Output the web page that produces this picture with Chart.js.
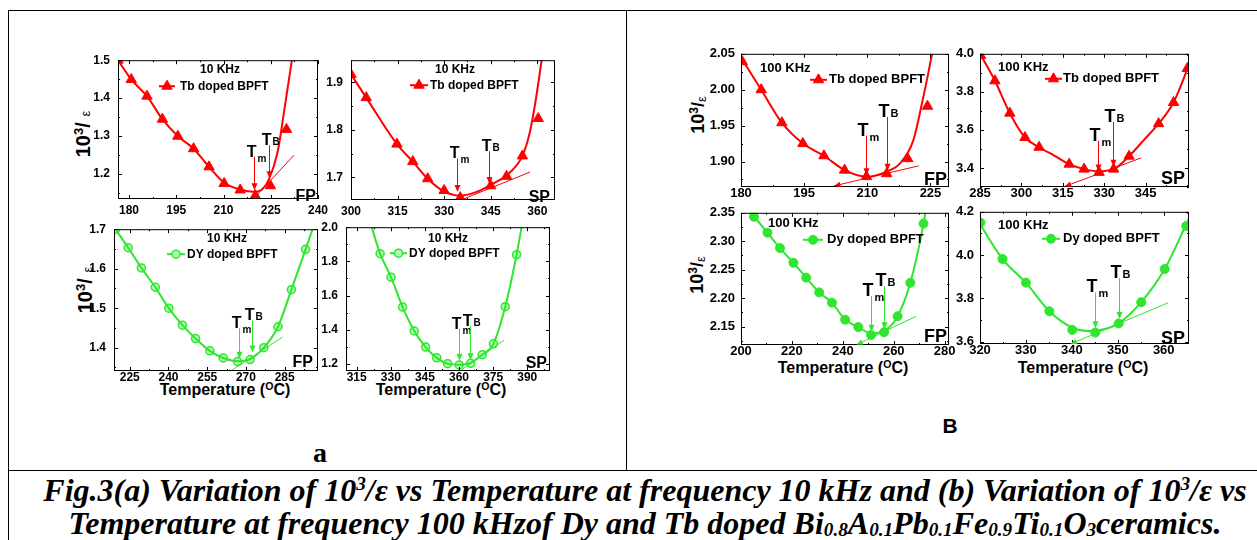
<!DOCTYPE html>
<html>
<head>
<meta charset="utf-8">
<title>Fig.3</title>
<script src="https://cdn.jsdelivr.net/npm/chart.js@4.4.1/dist/chart.umd.min.js"></script>
<style>
  body { margin: 0; background: #fff; }
  #page { position: relative; width: 1257px; height: 540px; overflow: hidden; font-family: Arial, "Liberation Sans", sans-serif; }
  .rule { position: absolute; background: #000; }
  canvas { position: absolute; }
  .lbl { position: absolute; white-space: nowrap; transform: translate(-50%, -50%); font-weight: bold; color: #000; line-height: 1; }
  .ytitle { transform: translate(-50%, -50%) rotate(-90deg); }
  .lbl sup { font-size: 66%; vertical-align: 0.5em; line-height: 0; }
  .eps { font-weight: normal; }
  .cap { position: absolute; left: 0; width: 1290px; text-align: center; font: italic bold 32px "Liberation Serif", "Times New Roman", serif; line-height: 33px; white-space: nowrap; }
  .cap sup { font-size: 60%; line-height: 0; vertical-align: 0.55em; }
  .cap sub { font-size: 60%; line-height: 0; vertical-align: -0.12em; }
</style>
</head>
<body>
<div id="page">
  <div class="rule" style="left:8px;top:10px;width:1249px;height:1px"></div>
  <div class="rule" style="left:8px;top:10px;width:1px;height:530px"></div>
  <div class="rule" style="left:626px;top:10px;width:1px;height:461px"></div>
  <div class="rule" style="left:8px;top:470px;width:1249px;height:1px"></div>

  <div class="lbl ytitle" style="left:83px;top:134px;font-size:20px">10<sup>3</sup>/ <span class="eps" style="font-size:13px">ε</span></div>
  <div class="lbl ytitle" style="left:85px;top:290px;font-size:20px">10<sup>3</sup>/ <span class="eps" style="font-size:13px">ε</span></div>
  <div class="lbl ytitle" style="left:698px;top:115px;font-size:18px">10<sup>3</sup>/<span class="eps" style="font-size:13px;vertical-align:-2px">ε</span></div>
  <div class="lbl ytitle" style="left:697px;top:275px;font-size:18px">10<sup>3</sup>/<span class="eps" style="font-size:13px;vertical-align:-2px">ε</span></div>

  <div class="lbl" style="left:225px;top:390px;font-size:16px">Temperature (<sup>O</sup>C)</div>
  <div class="lbl" style="left:441px;top:390px;font-size:16px">Temperature (<sup>O</sup>C)</div>
  <div class="lbl" style="left:843px;top:368px;font-size:16px">Temperature (<sup>O</sup>C)</div>
  <div class="lbl" style="left:1083px;top:368px;font-size:16px">Temperature (<sup>O</sup>C)</div>

  <div class="lbl" style="left:320px;top:453px;font:bold 28px 'Liberation Serif', serif">a</div>
  <div class="lbl" style="left:950px;top:425px;font-size:21px">B</div>

  <div class="cap" style="top:474px">Fig.3(a) Variation of 10<sup>3</sup>/ε vs Temperature at frequency 10 kHz and (b) Variation of 10<sup>3</sup>/ε vs</div>
  <div class="cap" style="top:507px">Temperature at frequency 100 kHzof Dy and Tb doped Bi<sub>0.8</sub>A<sub>0.1</sub>Pb<sub>0.1</sub>Fe<sub>0.9</sub>Ti<sub>0.1</sub>O<sub>3</sub>ceramics.</div>
</div>

<script>
// ---- (a) 10 kHz, Tb doped, FP
const tb10FpTemp = [176.5, 180.7, 185.7, 190.6, 195.5, 200.5, 205.4, 210.2, 215.3, 220.1, 224.9, 230.0];
const tb10FpInv  = [1.500, 1.449, 1.405, 1.344, 1.299, 1.266, 1.218, 1.174, 1.157, 1.142, 1.168, 1.317];
const tb10FpFitTemp = [176.5, 180.7, 185.7, 190.6, 195.5, 200.5, 205.4, 210.2, 215.3, 219.7, 222.0, 224.4, 227.2, 229.3, 231.7];
const tb10FpFitInv  = [1.500, 1.449, 1.405, 1.344, 1.299, 1.266, 1.218, 1.176, 1.158, 1.152, 1.157, 1.185, 1.258, 1.368, 1.500];
const tb10FpTanTemp = [220.1, 232.4];
const tb10FpTanInv  = [1.139, 1.249];
const tb10FpXTicks = [180, 195, 210, 225, 240];
const tb10FpYTicks = [1.2, 1.3, 1.4, 1.5];

// ---- (a) 10 kHz, Tb doped, SP
const tb10SpTemp = [300.0, 304.9, 314.8, 319.9, 324.7, 330.0, 335.2, 345.0, 350.1, 355.2, 360.3];
const tb10SpInv  = [1.917, 1.868, 1.770, 1.733, 1.697, 1.672, 1.657, 1.682, 1.702, 1.745, 1.824];
const tb10SpFitTemp = [300.0, 304.9, 314.8, 319.9, 324.7, 330.0, 335.0, 340.0, 345.0, 350.1, 355.2, 357.6, 359.5, 361.4];
const tb10SpFitInv  = [1.917, 1.868, 1.770, 1.733, 1.697, 1.670, 1.661, 1.668, 1.684, 1.704, 1.745, 1.795, 1.863, 1.947];
const tb10SpTanTemp = [335.8, 357.7];
const tb10SpTanInv  = [1.653, 1.711];
const tb10SpXTicks = [300, 315, 330, 345, 360];
const tb10SpYTicks = [1.7, 1.8, 1.9];

// ---- (a) 10 kHz, Dy doped, FP
const dy10FpTemp = [219.5, 224.4, 229.5, 234.9, 240.1, 245.4, 250.5, 256.0, 261.2, 266.8, 271.6, 276.9, 282.4, 287.6, 293.1];
const dy10FpInv  = [1.700, 1.653, 1.602, 1.553, 1.500, 1.457, 1.423, 1.392, 1.374, 1.365, 1.370, 1.400, 1.453, 1.547, 1.649];
const dy10FpFitTemp = [219.5, 224.4, 229.5, 234.9, 240.1, 245.4, 250.5, 256.0, 261.2, 266.8, 271.6, 276.9, 282.4, 287.6, 293.1, 295.8];
const dy10FpFitInv  = [1.700, 1.653, 1.602, 1.553, 1.500, 1.457, 1.423, 1.392, 1.374, 1.366, 1.371, 1.400, 1.453, 1.547, 1.649, 1.700];
const dy10FpTanTemp = [263.6, 284.2];
const dy10FpTanInv  = [1.339, 1.427];
const dy10FpXTicks = [225, 240, 255, 270, 285];
const dy10FpYTicks = [1.4, 1.5, 1.6, 1.7];

// ---- (a) 10 kHz, Dy doped, SP
const dy10SpTemp = [325.3, 330.1, 335.2, 340.3, 345.3, 350.2, 355.0, 360.1, 365.1, 370.2, 375.1, 380.3, 385.3];
const dy10SpInv  = [1.845, 1.708, 1.533, 1.393, 1.299, 1.236, 1.202, 1.194, 1.204, 1.254, 1.318, 1.535, 1.839];
const dy10SpFitTemp = [321.6, 325.3, 330.1, 335.2, 340.3, 345.3, 350.2, 355.0, 360.1, 365.1, 370.2, 375.1, 380.3, 385.3, 387.5];
const dy10SpFitInv  = [2.000, 1.845, 1.708, 1.533, 1.393, 1.299, 1.236, 1.202, 1.196, 1.206, 1.254, 1.318, 1.535, 1.839, 2.000];
const dy10SpTanTemp = [359.7, 379.9];
const dy10SpTanInv  = [1.153, 1.340];
const dy10SpXTicks = [315, 330, 345, 360, 375, 390];
const dy10SpYTicks = [1.2, 1.4, 1.6, 1.8, 2.0];

// ---- (b) 100 kHz, Tb doped, FP
const tb100FpTemp = [180.3, 184.8, 189.7, 194.7, 199.7, 204.6, 209.8, 214.6, 219.6, 224.3];
const tb100FpInv  = [2.039, 2.000, 1.954, 1.925, 1.908, 1.888, 1.879, 1.883, 1.904, 1.977];
const tb100FpFitTemp = [180.0, 184.8, 189.7, 194.7, 199.7, 204.6, 209.8, 214.6, 217.7, 220.9, 223.2, 225.4];
const tb100FpFitInv  = [2.045, 2.000, 1.954, 1.925, 1.908, 1.888, 1.879, 1.886, 1.897, 1.929, 1.987, 2.050];
const tb100FpTanTemp = [202.1, 222.2];
const tb100FpTanInv  = [1.866, 1.894];
const tb100FpXTicks = [180, 195, 210, 225];
const tb100FpYTicks = [1.90, 1.95, 2.00, 2.05];

// ---- (b) 100 kHz, Tb doped, SP
const tb100SpTemp = [285.2, 290.4, 295.8, 301.3, 306.4, 317.3, 322.7, 328.1, 333.4, 339.0, 349.7, 355.1, 360.1];
const tb100SpInv  = [3.991, 3.858, 3.688, 3.560, 3.509, 3.420, 3.394, 3.377, 3.394, 3.462, 3.633, 3.744, 3.923];
const tb100SpFitTemp = [285.0, 290.4, 295.8, 301.3, 306.4, 311.9, 317.3, 322.7, 327.5, 333.4, 339.0, 344.4, 349.7, 355.1, 360.7];
const tb100SpFitInv  = [4.000, 3.858, 3.688, 3.560, 3.509, 3.465, 3.420, 3.394, 3.383, 3.394, 3.462, 3.548, 3.633, 3.744, 3.940];
const tb100SpTanTemp = [315.7, 343.4];
const tb100SpTanInv  = [3.303, 3.453];
const tb100SpXTicks = [285, 300, 315, 330, 345];
const tb100SpYTicks = [3.4, 3.6, 3.8, 4.0];

// ---- (b) 100 kHz, Dy doped, FP
const dy100FpTemp = [205.1, 210.4, 215.3, 220.6, 225.6, 230.7, 235.7, 240.9, 246.1, 251.1, 256.2, 261.5, 266.5, 271.7];
const dy100FpInv  = [2.343, 2.315, 2.288, 2.262, 2.236, 2.210, 2.192, 2.162, 2.149, 2.135, 2.140, 2.168, 2.227, 2.331];
const dy100FpFitTemp = [203.5, 205.1, 210.4, 215.3, 220.6, 225.6, 230.7, 235.7, 240.9, 246.1, 251.1, 256.2, 261.5, 266.5, 271.7, 272.4];
const dy100FpFitInv  = [2.350, 2.343, 2.315, 2.288, 2.262, 2.236, 2.210, 2.192, 2.162, 2.149, 2.138, 2.142, 2.168, 2.227, 2.331, 2.350];
const dy100FpTanTemp = [245.4, 268.8];
const dy100FpTanInv  = [2.118, 2.168];
const dy100FpXTicks = [200, 220, 240, 260, 280];
const dy100FpYTicks = [2.15, 2.20, 2.25, 2.30, 2.35];

// ---- (b) 100 kHz, Dy doped, SP
const dy100SpTemp = [320.1, 324.9, 330.0, 335.1, 340.1, 345.1, 350.2, 355.1, 360.2, 364.9];
const dy100SpInv  = [4.150, 3.982, 3.873, 3.741, 3.655, 3.643, 3.685, 3.783, 3.936, 4.135];
const dy100SpFitTemp = [320.0, 324.9, 330.0, 335.1, 340.1, 343.9, 347.5, 350.2, 355.1, 360.2, 365.5];
const dy100SpFitInv  = [4.143, 3.982, 3.873, 3.741, 3.665, 3.650, 3.660, 3.685, 3.783, 3.936, 4.170];
const dy100SpTanTemp = [339.7, 360.9];
const dy100SpTanInv  = [3.590, 3.780];
const dy100SpXTicks = [320, 330, 340, 350, 360];
const dy100SpYTicks = [3.6, 3.8, 4.0, 4.2];

const RED = '#ff0000';
const GREEN = '#2ee62e';
const FONT = 'Arial, "Liberation Sans", sans-serif';
Chart.defaults.font.family = FONT;

const small = { tick: 12, note: 12, tag: 16, t: 16, sub: 10, yPad: 8 };
const large = { tick: 13, note: 13, tag: 18, t: 18, sub: 11, yPad: 6 };

const tbStyle = { color: RED, pointStyle: 'triangle', radius: 6, fill: RED, bw: 1 };
const dy10Style = { color: GREEN, pointStyle: 'circle', radius: 4, fill: '#b4ffb4', bw: 1.5 };
const dy100Style = { color: GREEN, pointStyle: 'circle', radius: 4.5, fill: GREEN, bw: 1 };

const pts = (xs, ys) => xs.map((v, i) => ({ x: v, y: ys[i] }));

const panels = [
  { box: [118, 55, 200, 144], xr: [176.5, 240], yr: [1.133, 1.5], yDec: 1, sz: small, xPad: 4, st: tbStyle,
    temp: tb10FpTemp, inv: tb10FpInv, fitT: tb10FpFitTemp, fitI: tb10FpFitInv, tanT: tb10FpTanTemp, tanI: tb10FpTanInv,
    xTicks: tb10FpXTicks, yTicks: tb10FpYTicks,
    arrows: [{ sub: 'm', x: 219.7, from: 1.245, to: 1.156 }, { sub: 'B', x: 224.4, from: 1.275, to: 1.188 }],
    freq: { text: '10 KHz', x: 102, y: 9, align: 'center' }, leg: { text: 'Tb doped BPFT', x1: 41, x2: 57, y: 26, tx: 62 },
    tag: { text: 'FP', x: 198, y: 136 } },
  { box: [351, 55, 204, 145], xr: [300, 365.7], yr: [1.652, 1.947], yDec: 1, sz: small, xPad: 4, st: tbStyle,
    temp: tb10SpTemp, inv: tb10SpInv, fitT: tb10SpFitTemp, fitI: tb10SpFitInv, tanT: tb10SpTanTemp, tanI: tb10SpTanInv,
    xTicks: tb10SpXTicks, yTicks: tb10SpYTicks,
    arrows: [{ sub: 'm', x: 334.2, from: 1.740, to: 1.669 }, { sub: 'B', x: 344.4, from: 1.755, to: 1.686 }],
    freq: { text: '10 KHz', x: 104, y: 9, align: 'center' }, leg: { text: 'Tb doped BPFT', x1: 59, x2: 77, y: 25, tx: 79 },
    tag: { text: 'SP', x: 199, y: 137 } },
  { box: [114, 224, 204, 147], xr: [218.9, 297.9], yr: [1.341, 1.7], yDec: 1, sz: small, xPad: -1, st: dy10Style,
    temp: dy10FpTemp, inv: dy10FpInv, fitT: dy10FpFitTemp, fitI: dy10FpFitInv, tanT: dy10FpTanTemp, tanI: dy10FpTanInv,
    xTicks: dy10FpXTicks, yTicks: dy10FpYTicks,
    arrows: [{ sub: 'm', x: 267.2, from: 1.449, to: 1.372 }, { sub: 'B', x: 272.3, from: 1.469, to: 1.388 }],
    freq: { text: '10 KHz', x: 113, y: 9, align: 'center' }, leg: { text: 'DY doped BPFT', x1: 53, x2: 71, y: 25, tx: 73 },
    tag: { text: 'FP', x: 199, y: 133 } },
  { box: [346, 222, 204, 149], xr: [310.3, 400], yr: [1.159, 2.0], yDec: 1, sz: small, xPad: -1, st: dy10Style,
    temp: dy10SpTemp, inv: dy10SpInv, fitT: dy10SpFitTemp, fitI: dy10SpFitInv, tanT: dy10SpTanTemp, tanI: dy10SpTanInv,
    xTicks: dy10SpXTicks, yTicks: dy10SpYTicks,
    arrows: [{ sub: 'm', x: 360.1, from: 1.406, to: 1.219 }, { sub: 'B', x: 364.8, from: 1.424, to: 1.222 }],
    freq: { text: '10 KHz', x: 102, y: 11, align: 'center' }, leg: { text: 'DY doped BPFT', x1: 44, x2: 61, y: 26, tx: 63 },
    tag: { text: 'SP', x: 201, y: 136 } },
  { box: [741, 50, 208, 137], xr: [180, 229.4], yr: [1.8645, 2.05], yDec: 2, sz: large, xPad: -1, st: tbStyle, tanHead: true,
    temp: tb100FpTemp, inv: tb100FpInv, fitT: tb100FpFitTemp, fitI: tb100FpFitInv, tanT: tb100FpTanTemp, tanI: tb100FpTanInv,
    xTicks: tb100FpXTicks, yTicks: tb100FpYTicks,
    arrows: [{ sub: 'm', x: 209.7, from: 1.936, to: 1.881 }, { sub: 'B', x: 214.6, from: 1.962, to: 1.887 }],
    freq: { text: '100 KHz', x: 19, y: 15, align: 'left' }, leg: { text: 'Tb doped BPFT', x1: 69, x2: 86, y: 26, tx: 88 },
    tag: { text: 'FP', x: 206, y: 126 } },
  { box: [980, 50, 209, 137], xr: [285, 360.7], yr: [3.3, 4.0], yDec: 1, sz: large, xPad: -1, st: tbStyle, tanHead: true,
    temp: tb100SpTemp, inv: tb100SpInv, fitT: tb100SpFitTemp, fitI: tb100SpFitInv, tanT: tb100SpTanTemp, tanI: tb100SpTanInv,
    xTicks: tb100SpXTicks, yTicks: tb100SpYTicks,
    arrows: [{ sub: 'm', x: 327.7, from: 3.543, to: 3.382 }, { sub: 'B', x: 333.3, from: 3.642, to: 3.406 }],
    freq: { text: '100 KHz', x: 18, y: 14, align: 'left' }, leg: { text: 'Tb doped BPFT', x1: 65, x2: 82, y: 25, tx: 83 },
    tag: { text: 'SP', x: 205, y: 125 } },
  { box: [741, 209, 208, 136], xr: [200, 281.7], yr: [2.1175, 2.35], yDec: 2, sz: large, xPad: -1, st: dy100Style, tanHead: true,
    temp: dy100FpTemp, inv: dy100FpInv, fitT: dy100FpFitTemp, fitI: dy100FpFitInv, tanT: dy100FpTanTemp, tanI: dy100FpTanInv,
    xTicks: dy100FpXTicks, yTicks: dy100FpYTicks,
    arrows: [{ sub: 'm', x: 251.0, from: 2.204, to: 2.141 }, { sub: 'B', x: 256.2, from: 2.221, to: 2.145 }],
    freq: { text: '100 KHz', x: 27, y: 11, align: 'left' }, leg: { text: 'Dy doped BPFT', x1: 62, x2: 82, y: 27, tx: 86 },
    tag: { text: 'FP', x: 206, y: 124 } },
  { box: [980, 208, 209, 136], xr: [320, 365.5], yr: [3.59, 4.2], yDec: 1, sz: large, xPad: -1, st: dy100Style, tanHead: true,
    temp: dy100SpTemp, inv: dy100SpInv, fitT: dy100SpFitTemp, fitI: dy100SpFitInv, tanT: dy100SpTanTemp, tanI: dy100SpTanInv,
    xTicks: dy100SpXTicks, yTicks: dy100SpYTicks,
    arrows: [{ sub: 'm', x: 345.1, from: 3.828, to: 3.663 }, { sub: 'B', x: 350.2, from: 3.895, to: 3.705 }],
    freq: { text: '100 KHz', x: 18, y: 14, align: 'left' }, leg: { text: 'Dy doped BPFT', x1: 62, x2: 80, y: 27, tx: 83 },
    tag: { text: 'SP', x: 205, y: 127 } },
];

// box with inward major/minor ticks on all four sides
const framePlugin = {
  id: 'frame',
  afterDatasetsDraw(chart, args, opts) {
    const p = opts.panel;
    const { ctx, chartArea: a, scales: { x, y } } = chart;
    ctx.save();
    ctx.strokeStyle = '#000';
    ctx.lineWidth = 1;
    ctx.strokeRect(a.left + 0.5, a.top + 0.5, a.width - 1, a.height - 1);
    const marks = (ticks, lo, hi) => {
      const step = ticks[1] - ticks[0], out = [];
      for (let v = ticks[0] - step; v <= hi + 1e-9; v += step / 2) {
        if (v >= lo - 1e-9) out.push({ v, major: ticks.some(t => Math.abs(t - v) < 1e-6) });
      }
      return out;
    };
    ctx.beginPath();
    marks(p.xTicks, p.xr[0], p.xr[1]).forEach(m => {
      const px = Math.round(x.getPixelForValue(m.v)) + 0.5, len = m.major ? 4 : 2;
      ctx.moveTo(px, a.bottom); ctx.lineTo(px, a.bottom - len);
      ctx.moveTo(px, a.top); ctx.lineTo(px, a.top + len);
    });
    marks(p.yTicks, p.yr[0], p.yr[1]).forEach(m => {
      const py = Math.round(y.getPixelForValue(m.v)) + 0.5, len = m.major ? 4 : 2;
      ctx.moveTo(a.left, py); ctx.lineTo(a.left + len, py);
      ctx.moveTo(a.right, py); ctx.lineTo(a.right - len, py);
    });
    ctx.stroke();
    ctx.restore();
  }
};

// Tm / TB arrows, legend, frequency and FP/SP notes
const notesPlugin = {
  id: 'notes',
  afterDatasetsDraw(chart, args, opts) {
    const p = opts.panel, sz = p.sz, st = p.st;
    const { ctx, chartArea: a, scales: { x, y } } = chart;
    ctx.save();
    p.arrows.forEach(ar => {
      const px = Math.round(x.getPixelForValue(ar.x)) + 0.5;
      const y1 = y.getPixelForValue(ar.from), y2 = y.getPixelForValue(ar.to);
      ctx.strokeStyle = st.color; ctx.fillStyle = st.color; ctx.lineWidth = 1;
      ctx.beginPath(); ctx.moveTo(px, y1); ctx.lineTo(px, y2 - 5); ctx.stroke();
      ctx.beginPath(); ctx.moveTo(px - 3, y2 - 7); ctx.lineTo(px + 3, y2 - 7); ctx.lineTo(px, y2); ctx.closePath(); ctx.fill();
      ctx.fillStyle = '#000';
      ctx.textBaseline = 'alphabetic';
      ctx.font = `bold ${sz.t}px ${FONT}`;
      ctx.textAlign = 'right';
      ctx.fillText('T', px + 2, y1);
      ctx.font = `bold ${sz.sub}px ${FONT}`;
      ctx.textAlign = 'left';
      ctx.fillText(ar.sub, px + 3, ar.sub === 'm' ? y1 + 5 : y1);
    });
    if (p.tanHead) {
      const x1 = x.getPixelForValue(p.tanT[0]), y1 = y.getPixelForValue(p.tanI[0]);
      const x2 = x.getPixelForValue(p.tanT[1]), y2 = y.getPixelForValue(p.tanI[1]);
      const ang = Math.atan2(y1 - y2, x1 - x2);
      ctx.fillStyle = st.color;
      ctx.beginPath();
      ctx.moveTo(x1, y1);
      ctx.lineTo(x1 - 7 * Math.cos(ang - 0.4), y1 - 7 * Math.sin(ang - 0.4));
      ctx.lineTo(x1 - 7 * Math.cos(ang + 0.4), y1 - 7 * Math.sin(ang + 0.4));
      ctx.closePath(); ctx.fill();
    }
    // legend
    const lg = p.leg, ly = a.top + lg.y;
    ctx.strokeStyle = st.color; ctx.lineWidth = 2;
    ctx.beginPath(); ctx.moveTo(a.left + lg.x1, ly); ctx.lineTo(a.left + lg.x2, ly); ctx.stroke();
    ctx.fillStyle = st.fill; ctx.lineWidth = st.bw;
    Chart.helpers.drawPoint(ctx, { pointStyle: st.pointStyle, radius: st.radius, borderWidth: st.bw, rotation: 0 },
      a.left + (lg.x1 + lg.x2) / 2, ly);
    ctx.fillStyle = '#000';
    ctx.textBaseline = 'middle';
    ctx.font = `bold ${sz.note}px ${FONT}`;
    ctx.textAlign = 'left';
    ctx.fillText(lg.text, a.left + lg.tx, ly);
    ctx.textAlign = p.freq.align;
    ctx.fillText(p.freq.text, a.left + p.freq.x, a.top + p.freq.y);
    ctx.font = `bold ${sz.tag}px ${FONT}`;
    ctx.textAlign = 'right';
    ctx.fillText(p.tag.text, a.left + p.tag.x, a.top + p.tag.y);
    ctx.restore();
  }
};

const page = document.getElementById('page');

function makePanel(p) {
  const padL = 48, padR = 16, padT = 10, padB = 26;
  const [bx, by, bw, bh] = p.box;
  const w = bw + padL + padR, h = bh + padT + padB;
  const cv = document.createElement('canvas');
  cv.width = w; cv.height = h;
  cv.style.left = (bx - padL) + 'px'; cv.style.top = (by - padT) + 'px';
  cv.style.width = w + 'px'; cv.style.height = h + 'px';
  page.appendChild(cv);
  const st = p.st;
  const tickFont = { size: p.sz.tick, weight: 'bold', family: FONT };
  new Chart(cv, {
    type: 'scatter',
    data: {
      datasets: [
        { data: pts(p.fitT, p.fitI), showLine: true, borderColor: st.color, borderWidth: 2,
          pointRadius: 0, cubicInterpolationMode: 'monotone' },
        { data: pts(p.tanT, p.tanI), showLine: true, borderColor: st.color, borderWidth: 1, pointRadius: 0 },
        { data: pts(p.temp, p.inv), showLine: false, pointStyle: st.pointStyle, pointRadius: st.radius,
          backgroundColor: st.fill, borderColor: st.color, pointBorderWidth: st.bw }
      ]
    },
    options: {
      responsive: false,
      animation: false,
      layout: { padding: { top: padT, right: padR, left: 0, bottom: 0 } },
      plugins: {
        legend: { display: false },
        tooltip: { enabled: false },
        frame: { panel: p },
        notes: { panel: p }
      },
      scales: {
        x: {
          type: 'linear', min: p.xr[0], max: p.xr[1],
          afterBuildTicks: s => { s.ticks = p.xTicks.map(v => ({ value: v })); },
          afterFit: s => { s.height = padB; },
          grid: { display: false, drawTicks: false },
          border: { display: false },
          ticks: { font: tickFont, color: '#000', padding: p.xPad, autoSkip: false, maxRotation: 0, minRotation: 0,
                   callback: v => String(v) }
        },
        y: {
          type: 'linear', min: p.yr[0], max: p.yr[1],
          afterBuildTicks: s => { s.ticks = p.yTicks.map(v => ({ value: v })); },
          afterFit: s => { s.width = padL; },
          grid: { display: false, drawTicks: false },
          border: { display: false },
          ticks: { font: tickFont, color: '#000', padding: p.sz.yPad, autoSkip: false,
                   callback: v => Number(v).toFixed(p.yDec) }
        }
      }
    },
    plugins: [framePlugin, notesPlugin]
  });
}

panels.forEach(makePanel);
</script>
</body>
</html>
